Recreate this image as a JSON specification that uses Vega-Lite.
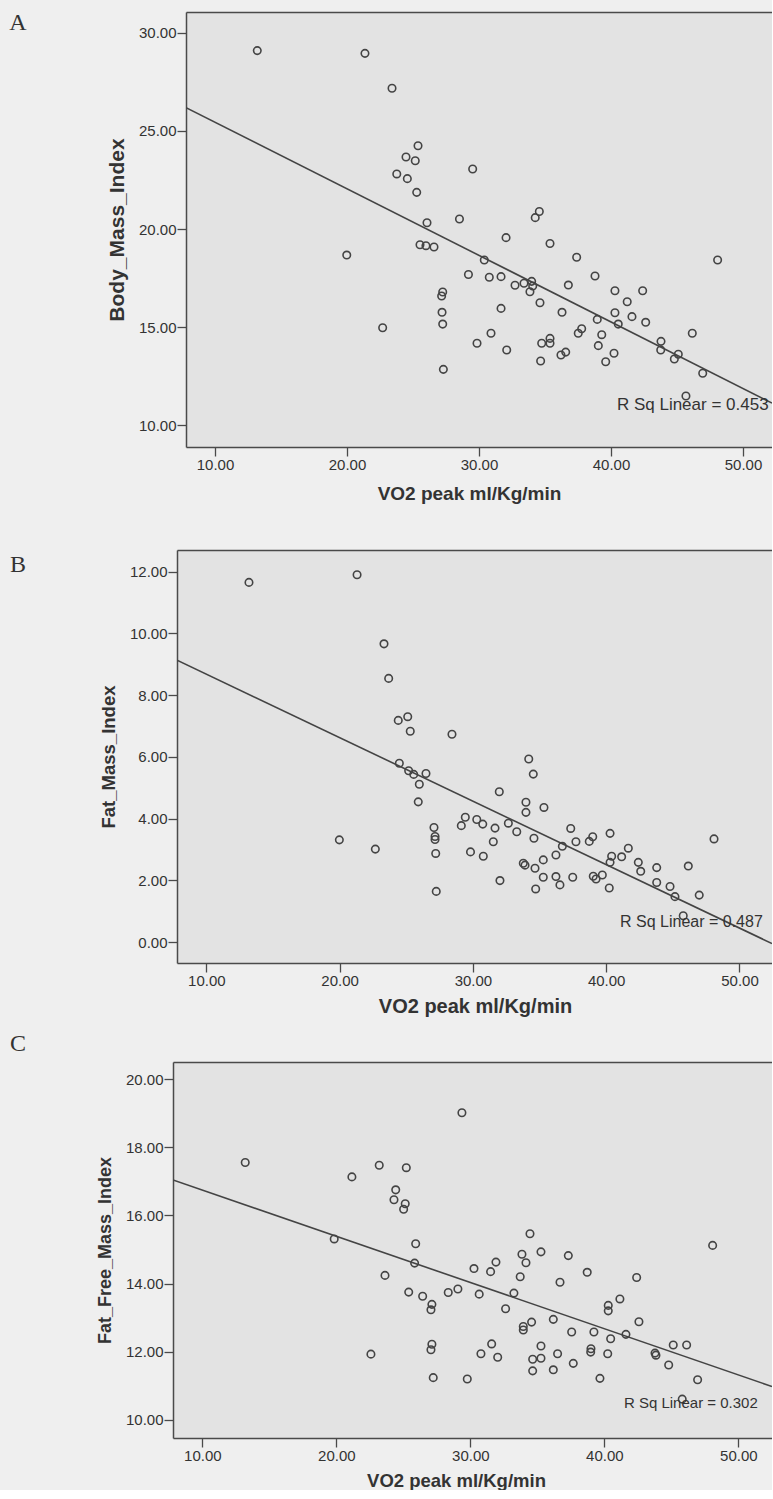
{
  "$schema": "https://vega.github.io/schema/vega-lite/v6.json",
  "background": "#efefef",
  "padding": {"left": 0, "top": 10, "right": 0, "bottom": 0},
  "config": {
    "font": "Liberation Sans",
    "view": {"fill": "#e3e3e3", "stroke": null},
    "axis": {"grid": false, "domainColor": "#4a4a4a", "domainWidth": 1.5, "tickColor": "#4a4a4a", "tickWidth": 1.3, "tickSize": 9, "labelFont": "Liberation Sans", "labelFontSize": 15, "labelColor": "#333333", "labelPadding": 1, "titleFont": "Liberation Sans", "titleFontWeight": "bold", "titleColor": "#333333", "titleFontSize": 18},
    "point": {"shape": "circle", "filled": false, "size": 56, "strokeWidth": 1.6, "color": "#444444", "opacity": 1},
    "line": {"color": "#444444", "strokeWidth": 1.6},
    "text": {"color": "#333333"}
  },
  "datasets": {
    "bmi": [
      {"vo2": 13.20, "bmi": 29.10}, {"vo2": 21.36, "bmi": 28.96}, {"vo2": 23.41, "bmi": 27.18}, {"vo2": 25.38, "bmi": 24.25}, {"vo2": 24.47, "bmi": 23.67}, {"vo2": 25.17, "bmi": 23.48}, {"vo2": 29.52, "bmi": 23.06}, {"vo2": 23.77, "bmi": 22.81}, {"vo2": 24.57, "bmi": 22.57}, {"vo2": 25.28, "bmi": 21.87}, {"vo2": 28.52, "bmi": 20.51}, {"vo2": 26.06, "bmi": 20.32}, {"vo2": 25.53, "bmi": 19.20}, {"vo2": 25.98, "bmi": 19.15}, {"vo2": 26.59, "bmi": 19.08}, {"vo2": 19.98, "bmi": 18.67}, {"vo2": 29.20, "bmi": 17.68}, {"vo2": 27.25, "bmi": 16.79}, {"vo2": 27.17, "bmi": 16.58}, {"vo2": 27.20, "bmi": 15.75}, {"vo2": 27.25, "bmi": 15.15}, {"vo2": 22.70, "bmi": 14.96}, {"vo2": 29.85, "bmi": 14.17}, {"vo2": 27.30, "bmi": 12.84}, {"vo2": 34.57, "bmi": 20.89}, {"vo2": 34.26, "bmi": 20.58}, {"vo2": 32.05, "bmi": 19.56}, {"vo2": 35.38, "bmi": 19.26}, {"vo2": 37.40, "bmi": 18.56}, {"vo2": 48.08, "bmi": 18.42}, {"vo2": 30.40, "bmi": 18.42}, {"vo2": 30.78, "bmi": 17.54}, {"vo2": 31.67, "bmi": 17.57}, {"vo2": 38.79, "bmi": 17.60}, {"vo2": 32.73, "bmi": 17.13}, {"vo2": 33.41, "bmi": 17.23}, {"vo2": 33.99, "bmi": 17.33}, {"vo2": 34.07, "bmi": 17.09}, {"vo2": 33.86, "bmi": 16.80}, {"vo2": 36.77, "bmi": 17.14}, {"vo2": 40.30, "bmi": 16.85}, {"vo2": 42.40, "bmi": 16.85}, {"vo2": 34.62, "bmi": 16.24}, {"vo2": 41.23, "bmi": 16.29}, {"vo2": 31.67, "bmi": 15.95}, {"vo2": 36.29, "bmi": 15.75}, {"vo2": 40.30, "bmi": 15.73}, {"vo2": 41.59, "bmi": 15.53}, {"vo2": 38.96, "bmi": 15.39}, {"vo2": 40.55, "bmi": 15.15}, {"vo2": 42.63, "bmi": 15.24}, {"vo2": 30.91, "bmi": 14.68}, {"vo2": 32.10, "bmi": 13.83}, {"vo2": 35.38, "bmi": 14.42}, {"vo2": 35.38, "bmi": 14.17}, {"vo2": 34.75, "bmi": 14.17}, {"vo2": 37.78, "bmi": 14.91}, {"vo2": 37.52, "bmi": 14.68}, {"vo2": 39.30, "bmi": 14.61}, {"vo2": 39.04, "bmi": 14.05}, {"vo2": 36.57, "bmi": 13.72}, {"vo2": 36.21, "bmi": 13.57}, {"vo2": 40.23, "bmi": 13.66}, {"vo2": 39.60, "bmi": 13.23}, {"vo2": 34.67, "bmi": 13.27}, {"vo2": 43.79, "bmi": 14.27}, {"vo2": 43.77, "bmi": 13.83}, {"vo2": 45.10, "bmi": 13.61}, {"vo2": 44.80, "bmi": 13.37}, {"vo2": 46.16, "bmi": 14.68}, {"vo2": 46.95, "bmi": 12.64}, {"vo2": 45.68, "bmi": 11.48}
    ],
    "fitA": [{"vo2": 7.8, "bmi": 26.19}, {"vo2": 52.2, "bmi": 11.12}],
    "fmi": [
      {"vo2": 13.20, "fmi": 11.65}, {"vo2": 21.31, "fmi": 11.90}, {"vo2": 23.33, "fmi": 9.66}, {"vo2": 23.68, "fmi": 8.54}, {"vo2": 24.40, "fmi": 7.18}, {"vo2": 25.11, "fmi": 7.30}, {"vo2": 25.30, "fmi": 6.83}, {"vo2": 28.43, "fmi": 6.73}, {"vo2": 24.48, "fmi": 5.79}, {"vo2": 25.18, "fmi": 5.55}, {"vo2": 25.56, "fmi": 5.43}, {"vo2": 26.48, "fmi": 5.46}, {"vo2": 25.98, "fmi": 5.11}, {"vo2": 25.90, "fmi": 4.54}, {"vo2": 34.19, "fmi": 5.93}, {"vo2": 34.53, "fmi": 5.44}, {"vo2": 31.98, "fmi": 4.87}, {"vo2": 33.98, "fmi": 4.53}, {"vo2": 35.33, "fmi": 4.36}, {"vo2": 27.08, "fmi": 3.71}, {"vo2": 27.16, "fmi": 3.42}, {"vo2": 27.16, "fmi": 3.32}, {"vo2": 27.21, "fmi": 2.87}, {"vo2": 19.98, "fmi": 3.31}, {"vo2": 22.68, "fmi": 3.01}, {"vo2": 27.25, "fmi": 1.64}, {"vo2": 29.43, "fmi": 4.04}, {"vo2": 29.13, "fmi": 3.77}, {"vo2": 30.29, "fmi": 3.97}, {"vo2": 29.82, "fmi": 2.92}, {"vo2": 33.98, "fmi": 4.20}, {"vo2": 30.74, "fmi": 3.82}, {"vo2": 31.66, "fmi": 3.69}, {"vo2": 32.66, "fmi": 3.85}, {"vo2": 33.29, "fmi": 3.57}, {"vo2": 34.58, "fmi": 3.36}, {"vo2": 31.53, "fmi": 3.25}, {"vo2": 30.78, "fmi": 2.78}, {"vo2": 33.78, "fmi": 2.55}, {"vo2": 33.91, "fmi": 2.49}, {"vo2": 34.66, "fmi": 2.39}, {"vo2": 35.28, "fmi": 2.66}, {"vo2": 36.23, "fmi": 2.82}, {"vo2": 36.71, "fmi": 3.10}, {"vo2": 37.34, "fmi": 3.68}, {"vo2": 37.73, "fmi": 3.25}, {"vo2": 38.73, "fmi": 3.26}, {"vo2": 38.99, "fmi": 3.41}, {"vo2": 40.29, "fmi": 3.52}, {"vo2": 41.66, "fmi": 3.04}, {"vo2": 41.16, "fmi": 2.76}, {"vo2": 40.41, "fmi": 2.78}, {"vo2": 40.29, "fmi": 2.58}, {"vo2": 42.41, "fmi": 2.58}, {"vo2": 42.59, "fmi": 2.29}, {"vo2": 43.79, "fmi": 2.41}, {"vo2": 46.16, "fmi": 2.46}, {"vo2": 48.09, "fmi": 3.34}, {"vo2": 32.03, "fmi": 1.99}, {"vo2": 35.28, "fmi": 2.10}, {"vo2": 36.23, "fmi": 2.12}, {"vo2": 36.53, "fmi": 1.85}, {"vo2": 34.71, "fmi": 1.72}, {"vo2": 37.49, "fmi": 2.10}, {"vo2": 39.03, "fmi": 2.13}, {"vo2": 39.24, "fmi": 2.04}, {"vo2": 39.71, "fmi": 2.17}, {"vo2": 40.23, "fmi": 1.75}, {"vo2": 43.79, "fmi": 1.93}, {"vo2": 44.79, "fmi": 1.80}, {"vo2": 45.16, "fmi": 1.47}, {"vo2": 46.98, "fmi": 1.52}, {"vo2": 45.78, "fmi": 0.85}
    ],
    "fitB": [{"vo2": 7.8, "fmi": 9.13}, {"vo2": 52.44, "fmi": -0.05}],
    "ffmi": [
      {"vo2": 13.20, "ffmi": 17.55}, {"vo2": 29.37, "ffmi": 19.01}, {"vo2": 23.20, "ffmi": 17.47}, {"vo2": 25.22, "ffmi": 17.40}, {"vo2": 21.16, "ffmi": 17.13}, {"vo2": 24.43, "ffmi": 16.75}, {"vo2": 24.30, "ffmi": 16.46}, {"vo2": 25.14, "ffmi": 16.34}, {"vo2": 25.02, "ffmi": 16.18}, {"vo2": 19.84, "ffmi": 15.31}, {"vo2": 25.92, "ffmi": 15.17}, {"vo2": 25.84, "ffmi": 14.60}, {"vo2": 30.27, "ffmi": 14.44}, {"vo2": 23.63, "ffmi": 14.24}, {"vo2": 25.40, "ffmi": 13.75}, {"vo2": 26.44, "ffmi": 13.63}, {"vo2": 27.13, "ffmi": 13.39}, {"vo2": 27.06, "ffmi": 13.23}, {"vo2": 28.35, "ffmi": 13.74}, {"vo2": 29.07, "ffmi": 13.84}, {"vo2": 30.66, "ffmi": 13.69}, {"vo2": 22.58, "ffmi": 11.93}, {"vo2": 27.13, "ffmi": 12.22}, {"vo2": 27.06, "ffmi": 12.06}, {"vo2": 27.23, "ffmi": 11.24}, {"vo2": 29.77, "ffmi": 11.20}, {"vo2": 48.08, "ffmi": 15.12}, {"vo2": 34.45, "ffmi": 15.46}, {"vo2": 33.85, "ffmi": 14.86}, {"vo2": 34.15, "ffmi": 14.61}, {"vo2": 35.27, "ffmi": 14.93}, {"vo2": 37.31, "ffmi": 14.82}, {"vo2": 31.91, "ffmi": 14.63}, {"vo2": 31.51, "ffmi": 14.35}, {"vo2": 33.72, "ffmi": 14.20}, {"vo2": 38.72, "ffmi": 14.33}, {"vo2": 36.69, "ffmi": 14.04}, {"vo2": 42.41, "ffmi": 14.18}, {"vo2": 33.25, "ffmi": 13.72}, {"vo2": 41.16, "ffmi": 13.55}, {"vo2": 40.29, "ffmi": 13.36}, {"vo2": 40.29, "ffmi": 13.20}, {"vo2": 32.63, "ffmi": 13.26}, {"vo2": 34.57, "ffmi": 12.87}, {"vo2": 33.95, "ffmi": 12.74}, {"vo2": 33.95, "ffmi": 12.64}, {"vo2": 36.19, "ffmi": 12.95}, {"vo2": 37.56, "ffmi": 12.58}, {"vo2": 39.22, "ffmi": 12.58}, {"vo2": 40.47, "ffmi": 12.38}, {"vo2": 41.61, "ffmi": 12.51}, {"vo2": 42.58, "ffmi": 12.88}, {"vo2": 31.59, "ffmi": 12.23}, {"vo2": 30.79, "ffmi": 11.94}, {"vo2": 32.04, "ffmi": 11.84}, {"vo2": 35.27, "ffmi": 12.17}, {"vo2": 34.65, "ffmi": 11.78}, {"vo2": 35.27, "ffmi": 11.81}, {"vo2": 36.51, "ffmi": 11.94}, {"vo2": 39.00, "ffmi": 12.09}, {"vo2": 38.98, "ffmi": 11.99}, {"vo2": 40.25, "ffmi": 11.94}, {"vo2": 43.78, "ffmi": 11.96}, {"vo2": 43.85, "ffmi": 11.90}, {"vo2": 45.14, "ffmi": 12.20}, {"vo2": 46.14, "ffmi": 12.20}, {"vo2": 44.80, "ffmi": 11.61}, {"vo2": 34.65, "ffmi": 11.44}, {"vo2": 36.19, "ffmi": 11.47}, {"vo2": 37.68, "ffmi": 11.66}, {"vo2": 39.67, "ffmi": 11.22}, {"vo2": 46.96, "ffmi": 11.18}, {"vo2": 45.81, "ffmi": 10.61}
    ],
    "fitC": [{"vo2": 7.81, "ffmi": 17.04}, {"vo2": 52.51, "ffmi": 10.98}]
  },
  "spacing": 47,
  "vconcat": [
    {
      "bounds": "flush",
      "spacing": 150,
      "hconcat": [
        {
          "width": 36, "height": 21,
          "view": {"fill": null, "stroke": null},
          "data": {"values": [{"panel": "A"}]},
          "mark": {"type": "text", "font": "Liberation Serif", "fontSize": 24, "align": "center", "baseline": "middle"},
          "encoding": {"text": {"field": "panel"}}
        },
        {
          "width": 586, "height": 435,
          "resolve": {"axis": {"x": "independent"}},
          "layer": [
            {
              "data": {"name": "bmi"},
              "mark": {"type": "point", "clip": true},
              "encoding": {
                "x": {"field": "vo2", "type": "quantitative", "scale": {"domain": [7.8, 52.2], "nice": false, "zero": false}, "axis": {"orient": "bottom", "values": [10, 20, 30, 40, 50], "format": ".2f", "title": "VO2 peak ml/Kg/min", "titleFontSize": 19, "titlePadding": 12, "titleX": 283}},
                "y": {"field": "bmi", "type": "quantitative", "scale": {"domain": [8.88, 31.07], "nice": false, "zero": false}, "axis": {"values": [10, 15, 20, 25, 30], "format": ".2f", "title": "Body_Mass_Index", "titleFontSize": 21, "titlePadding": 11}}
              }
            },
            {
              "data": {"name": "fitA"},
              "mark": {"type": "line", "clip": true},
              "encoding": {
                "x": {"field": "vo2", "type": "quantitative", "axis": {"orient": "top", "labels": false, "ticks": false, "title": null, "domain": true}},
                "y": {"field": "bmi", "type": "quantitative", "axis": {"values": [10, 15, 20, 25, 30], "format": ".2f", "title": "Body_Mass_Index", "titleFontSize": 21, "titlePadding": 11}}
              }
            },
            {
              "data": {"values": [{"label": "R Sq Linear = 0.453"}]},
              "mark": {"type": "text", "align": "left", "baseline": "middle", "fontSize": 17, "clip": true},
              "encoding": {
                "x": {"datum": 40.45, "type": "quantitative", "axis": null},
                "y": {"datum": 11.02, "type": "quantitative", "axis": {"values": [10, 15, 20, 25, 30], "format": ".2f", "title": "Body_Mass_Index", "titleFontSize": 21, "titlePadding": 11}},
                "text": {"field": "label"}
              }
            }
          ]
        }
      ]
    },
    {
      "spacing": 16,
      "vconcat": [
        {
          "bounds": "flush",
          "spacing": 141,
          "hconcat": [
            {
              "width": 36, "height": 30,
              "view": {"fill": null, "stroke": null},
              "data": {"values": [{"panel": "B"}]},
              "mark": {"type": "text", "font": "Liberation Serif", "fontSize": 24, "align": "center", "baseline": "middle"},
              "encoding": {"text": {"field": "panel"}}
            },
            {
              "width": 595, "height": 413,
              "resolve": {"axis": {"x": "independent"}},
              "layer": [
                {
                  "data": {"name": "fmi"},
                  "mark": {"type": "point", "clip": true},
                  "encoding": {
                    "x": {"field": "vo2", "type": "quantitative", "scale": {"domain": [7.8, 52.44], "nice": false, "zero": false}, "axis": {"orient": "bottom", "values": [10, 20, 30, 40, 50], "format": ".2f", "title": "VO2 peak ml/Kg/min", "titleFontSize": 20, "titlePadding": 8, "titleX": 298}},
                    "y": {"field": "fmi", "type": "quantitative", "scale": {"domain": [-0.68, 12.7], "nice": false, "zero": false}, "axis": {"values": [0, 2, 4, 6, 8, 10, 12], "format": ".2f", "title": "Fat_Mass_Index", "titleFontSize": 18.5, "titlePadding": 11}}
                  }
                },
                {
                  "data": {"name": "fitB"},
                  "mark": {"type": "line", "clip": true},
                  "encoding": {
                    "x": {"field": "vo2", "type": "quantitative", "axis": {"orient": "top", "labels": false, "ticks": false, "title": null, "domain": true}},
                    "y": {"field": "fmi", "type": "quantitative", "axis": {"values": [0, 2, 4, 6, 8, 10, 12], "format": ".2f", "title": "Fat_Mass_Index", "titleFontSize": 18.5, "titlePadding": 11}}
                  }
                },
                {
                  "data": {"values": [{"label": "R Sq Linear = 0.487"}]},
                  "mark": {"type": "text", "align": "left", "baseline": "middle", "fontSize": 16, "clip": true},
                  "encoding": {
                    "x": {"datum": 41.04, "type": "quantitative", "axis": null},
                    "y": {"datum": 0.66, "type": "quantitative", "axis": {"values": [0, 2, 4, 6, 8, 10, 12], "format": ".2f", "title": "Fat_Mass_Index", "titleFontSize": 18.5, "titlePadding": 11}},
                    "text": {"field": "label"}
                  }
                }
              ]
            }
          ]
        },
        {
          "bounds": "flush",
          "spacing": 137,
          "hconcat": [
            {
              "width": 36, "height": 2,
              "view": {"fill": null, "stroke": null},
              "data": {"values": [{"panel": "C"}]},
              "mark": {"type": "text", "font": "Liberation Serif", "fontSize": 24, "align": "center", "baseline": "middle", "dy": -19},
              "encoding": {"text": {"field": "panel"}}
            },
            {
              "width": 599, "height": 376,
              "resolve": {"axis": {"x": "independent"}},
              "layer": [
                {
                  "data": {"name": "ffmi"},
                  "mark": {"type": "point", "clip": true},
                  "encoding": {
                    "x": {"field": "vo2", "type": "quantitative", "scale": {"domain": [7.81, 52.51], "nice": false, "zero": false}, "axis": {"orient": "bottom", "values": [10, 20, 30, 40, 50], "format": ".2f", "title": "VO2 peak ml/Kg/min", "titleFontSize": 18.5, "titlePadding": 8, "titleX": 283}},
                    "y": {"field": "ffmi", "type": "quantitative", "scale": {"domain": [9.47, 20.5], "nice": false, "zero": false}, "axis": {"values": [10, 12, 14, 16, 18, 20], "format": ".2f", "title": "Fat_Free_Mass_Index", "titleFontSize": 18, "titlePadding": 11}}
                  }
                },
                {
                  "data": {"name": "fitC"},
                  "mark": {"type": "line", "clip": true},
                  "encoding": {
                    "x": {"field": "vo2", "type": "quantitative", "axis": {"orient": "top", "labels": false, "ticks": false, "title": null, "domain": true}},
                    "y": {"field": "ffmi", "type": "quantitative", "axis": {"values": [10, 12, 14, 16, 18, 20], "format": ".2f", "title": "Fat_Free_Mass_Index", "titleFontSize": 18, "titlePadding": 11}}
                  }
                },
                {
                  "data": {"values": [{"label": "R Sq Linear = 0.302"}]},
                  "mark": {"type": "text", "align": "left", "baseline": "middle", "fontSize": 15, "clip": true},
                  "encoding": {
                    "x": {"datum": 41.46, "type": "quantitative", "axis": null},
                    "y": {"datum": 10.49, "type": "quantitative", "axis": {"values": [10, 12, 14, 16, 18, 20], "format": ".2f", "title": "Fat_Free_Mass_Index", "titleFontSize": 18, "titlePadding": 11}},
                    "text": {"field": "label"}
                  }
                }
              ]
            }
          ]
        }
      ]
    }
  ]
}
